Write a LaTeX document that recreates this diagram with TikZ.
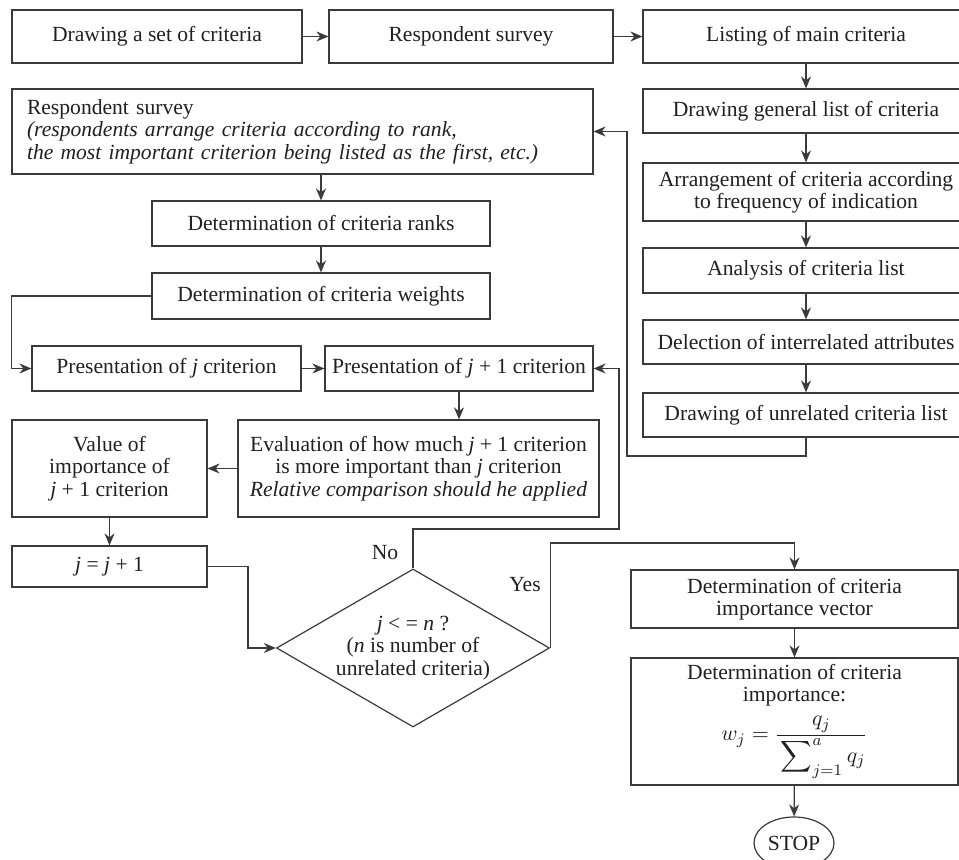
\documentclass[tikz,border=0pt]{standalone}
\usepackage{amsmath}
\usepackage{fontspec}
\setmainfont{Liberation Serif}
\usepackage{tikz}
\usetikzlibrary{arrows.meta, shapes.geometric}
\definecolor{my_line}{HTML}{3A3A3A}
\definecolor{my_text}{HTML}{231F20}

\begin{document}
\begin{tikzpicture}[
    x=0.5pt, y=-0.5pt,  % one unit = one pixel of the 959 x 860 layout grid
    font=\fontsize{10.8}{11.2}\selectfont,
    box/.style={draw=my_line, text=my_text, line width=0.6pt, inner sep=1pt, align=center},
    decision/.style={draw=my_line, text=my_text, line width=0.6pt, diamond, aspect=1.73,
        inner sep=0pt, align=center},
    terminal/.style={draw=my_line, text=my_text, line width=0.6pt, ellipse, inner sep=0pt},
    flow/.style={draw=my_line, line width=0.6pt, -{Stealth[length=6pt,width=5pt]}},
    answer/.style={text=my_text},
]
\useasboundingbox (0,0) rectangle (959,860);

% ── Top row ──────────────────────────────────────────────────────────────────
\node[box, minimum width=145pt, minimum height=26.5pt] (setcrit) at (157,36.5)
    {Drawing a set of criteria};
\node[box, minimum width=142pt, minimum height=26.5pt] (survey) at (471,36.5)
    {Respondent survey};
\node[box, minimum width=163pt, minimum height=26.5pt] (listing) at (806,36.5)
    {Listing of main criteria};

% ── Right column: building the list of criteria ─────────────────────────────
\node[box, minimum width=163pt, minimum height=22pt] (genlist) at (806,111)
    {Drawing general list of criteria};
\node[box, minimum width=163pt, minimum height=29pt] (arrange) at (806,192)
    {Arrangement of criteria according\\ to frequency of indication};
\node[box, minimum width=163pt, minimum height=22.5pt] (analysis) at (806,270.5)
    {Analysis of criteria list};
\node[box, minimum width=163pt, minimum height=22pt] (delection) at (806,342)
    {Delection of interrelated attributes};
\node[box, minimum width=163pt, minimum height=22pt] (unrel) at (806,415)
    {Drawing of unrelated criteria list};

% ── Left column: ranks and weights ──────────────────────────────────────────
\node[box, minimum height=42.5pt, text width=275.5pt, inner xsep=7.5pt, align=left]
    (ranksurvey) at (302.5,131.5)
    {Respondent survey\\
     \textit{(respondents arrange criteria according to rank,}\\
     \textit{the most important criterion being listed as the first, etc.)}};
\node[box, minimum width=169pt, minimum height=22.5pt] (ranks) at (321,223.5)
    {Determination of criteria ranks};
\node[box, minimum width=169pt, minimum height=23pt] (weights) at (321,296)
    {Determination of criteria weights};

% ── Pairwise comparison loop ────────────────────────────────────────────────
\node[box, minimum width=134.5pt, minimum height=22.5pt] (presj) at (166.5,368.5)
    {Presentation of \textit{j} criterion};
\node[box, minimum width=134pt, minimum height=22.5pt] (presnext) at (459,368.5)
    {Presentation of \textit{j} + 1 criterion};
\node[box, minimum width=180.5pt, minimum height=48.5pt] (evaluate) at (418.5,468.5)
    {Evaluation of how much \textit{j} + 1 criterion\\
     is more important than \textit{j} criterion\\
     \textit{Relative comparison should he applied}};
\node[box, minimum width=97.5pt, minimum height=48.5pt] (value) at (109.5,468.5)
    {Value of\\ importance of\\ \textit{j} + 1 criterion};
\node[box, minimum width=97.5pt, minimum height=20.5pt] (increment) at (109.5,566.5)
    {\textit{j} = \textit{j} + 1};
\node[decision, minimum width=136.5pt, minimum height=79pt] (check) at (413,648)
    {\textit{j} < = \textit{n} ?\\ (\textit{n} is number of\\ unrelated criteria)};

% ── Final weights ───────────────────────────────────────────────────────────
\node[box, minimum width=163.5pt, minimum height=29pt] (impvec) at (794.5,599)
    {Determination of criteria\\ importance vector};
\node[box, minimum width=163.5pt, minimum height=63.5pt] (impcalc) at (794.5,721.5)
    {Determination of criteria\\ importance:\\[4pt]
     $w_j=\dfrac{q_j}{\rule{0pt}{12pt}\displaystyle\sum\nolimits_{j=1}^{a} q_j}$};
\node[terminal, minimum width=40pt, minimum height=26pt] (stop) at (794,843) {STOP};

% ── Answer labels ───────────────────────────────────────────────────────────
\node[answer] (nolabel) at (385,553) {No};
\node[answer] (yeslabel) at (525,585) {Yes};

% ── Connectors ──────────────────────────────────────────────────────────────
\draw[flow] (setcrit) -- (survey);
\draw[flow] (survey) -- (listing);
\draw[flow] (listing) -- (genlist);
\draw[flow] (genlist) -- (arrange);
\draw[flow] (arrange) -- (analysis);
\draw[flow] (analysis) -- (delection);
\draw[flow] (delection) -- (unrel);

% feedback from the unrelated list back to the survey
\coordinate (backturn) at (627,456);
\draw[flow] (unrel.south) |- (backturn) |- (ranksurvey.east);

\draw[flow] (ranksurvey.south -| ranks) -- (ranks);
\draw[flow] (ranks) -- (weights);
\draw[flow] (weights.west) -- (weights.west -| ranksurvey.west) |- (presj.west);
\draw[flow] (presj) -- (presnext);
\draw[flow] (presnext.south) -- (presnext.south |- evaluate.north);
\draw[flow] (evaluate) -- (value);
\draw[flow] (value) -- (increment);

\coordinate (incturn) at (248,600);
\draw[flow] (increment.east) -| (incturn) |- (check.west);

% No: next pair of criteria
\coordinate (noturn) at (619,529);
\draw[flow] (check.north) |- (noturn) |- (presnext.east);

% Yes: compute the vector
\draw[flow] (check.east) -- ++(0,-105) -| (impvec.north);
\draw[flow] (impvec) -- (impcalc);
\draw[flow] (impcalc) -- (stop);

\end{tikzpicture}
\end{document}
